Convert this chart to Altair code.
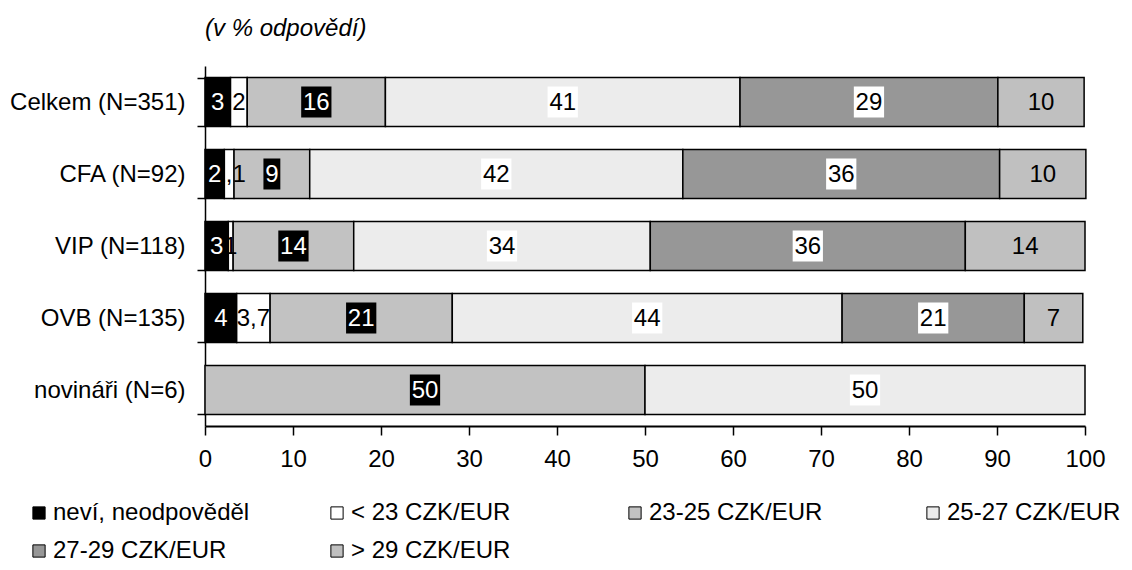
import altair as alt
import pandas as pd

groups = ["Celkem (N=351)", "CFA (N=92)", "VIP (N=118)", "OVB (N=135)", "novináři (N=6)"]
cats = ["neví, neodpověděl", "< 23 CZK/EUR", "23-25 CZK/EUR", "25-27 CZK/EUR", "27-29 CZK/EUR", "> 29 CZK/EUR"]
colors = ["#000000", "#ffffff", "#c2c2c2", "#ececec", "#979797", "#c0c0c0"]

# segment sizes, one list per answer category
v_nevi = [2.9, 2.2, 2.65, 3.6, 0]
v_lt23 = [1.9, 1.1, 0.55, 3.8, 0]
v_2325 = [15.7, 8.6, 13.7, 20.7, 50]
v_2527 = [40.3, 42.4, 33.7, 44.3, 50]
v_2729 = [29.3, 36.0, 35.8, 20.7, 0]
v_gt29 = [9.8, 9.8, 13.6, 6.65, 0]

# printed labels
l_nevi = ["3", "2", "3", "4", ""]
l_lt23 = ["2", "1,1", "1", "3,7", ""]
l_2325 = ["16", "9", "14", "21", "50"]
l_2527 = ["41", "42", "34", "44", "50"]
l_2729 = ["29", "36", "36", "21", ""]
l_gt29 = ["10", "10", "14", "7", ""]

vals = [v_nevi, v_lt23, v_2325, v_2527, v_2729, v_gt29]
labs = [l_nevi, l_lt23, l_2325, l_2527, l_2729, l_gt29]

rows = []
for gi, g in enumerate(groups):
    for ci, c in enumerate(cats):
        rows.append({"group": g, "cat": c, "ord": ci, "value": vals[ci][gi], "label": labs[ci][gi]})
df = pd.DataFrame(rows)

FONT = "Liberation Sans"
FS = 24

xscale = alt.Scale(domain=[0, 100], nice=False, zero=True)
xaxis = alt.Axis(title=None, values=list(range(0, 101, 10)), grid=False, tickSize=9, tickWidth=1.5,
                 tickColor="black", domainColor="black", domainWidth=2, labelPadding=12,
                 labelFontSize=FS, labelFont=FONT, labelColor="black", labelFlush=False)
yscale = alt.Scale(domain=groups, paddingInner=0.32, paddingOuter=0.16)
yaxis = alt.Axis(title=None, tickBand="extent", tickSize=8, tickWidth=1.5, tickColor="black",
                 domainColor="black", domainWidth=1.5, labelPadding=12, labelFontSize=FS,
                 labelFont=FONT, labelColor="black", labelLimit=400)

Y = alt.Y("group:N", scale=yscale, axis=yaxis, sort=groups)

base = (alt.Chart(df)
        .transform_filter("datum.value > 0")
        .transform_stack(stack="value", groupby=["group"], as_=["x0", "x1"],
                         sort=[alt.SortField("ord", order="ascending")])
        .transform_calculate(mid="(datum.x0 + datum.x1) / 2",
                             half="length(datum.label) * 0.76 + 0.2"))

bars = base.mark_bar(stroke="black", strokeWidth=1.5).encode(
    y=Y,
    x=alt.X("x0:Q", scale=xscale, axis=xaxis),
    x2="x1:Q",
    color=alt.Color("cat:N", scale=alt.Scale(domain=cats, range=colors), sort=cats,
                    legend=alt.Legend(title=None, orient="none", legendX=-178, legendY=435,
                                      direction="horizontal", columns=4, gridAlign="all",
                                      columnPadding=75, rowPadding=14,
                                      symbolType="square", symbolSize=150, symbolStrokeColor="black",
                                      symbolStrokeWidth=1, labelFontSize=FS, labelFont=FONT,
                                      labelColor="black", labelOffset=2, labelLimit=400)),
)

black_boxes = (base.transform_filter(alt.datum.cat == cats[2])
               .transform_calculate(bx0="datum.mid - datum.half", bx1="datum.mid + datum.half")
               .mark_bar(size=31, color="black")
               .encode(y=Y, x=alt.X("bx0:Q", scale=xscale, axis=xaxis), x2="bx1:Q"))

white_boxes = (base.transform_filter((alt.datum.cat == cats[3]) | (alt.datum.cat == cats[4]))
               .transform_calculate(bx0="datum.mid - datum.half", bx1="datum.mid + datum.half")
               .mark_bar(size=31, color="white")
               .encode(y=Y, x=alt.X("bx0:Q", scale=xscale, axis=xaxis), x2="bx1:Q"))

texts = (base.transform_filter(alt.datum.cat != cats[0])
         .mark_text(font=FONT, fontSize=FS, baseline="middle", align="center", dy=1)
         .encode(y=Y, x=alt.X("mid:Q", scale=xscale, axis=xaxis), text="label:N",
                 color=alt.condition(alt.datum.cat == cats[2], alt.value("white"), alt.value("black"))))

texts_nevi = (base.transform_filter(alt.datum.cat == cats[0])
              .mark_text(font=FONT, fontSize=FS, baseline="middle", align="center", dy=1, color="white")
              .encode(y=Y, x=alt.X("mid:Q", scale=xscale, axis=xaxis), text="label:N"))

chart = (alt.layer(bars, black_boxes, white_boxes, texts, texts_nevi)
         .properties(width=880, height=360,
                     title=alt.Title("(v % odpovědí)", anchor="start", frame="group", font=FONT,
                                     fontSize=FS, fontStyle="italic", fontWeight="normal",
                                     color="black", offset=13),
                     autosize=alt.AutoSizeParams(type="none"),
                     padding={"left": 197, "top": 58, "right": 39, "bottom": 136})
         .configure_view(stroke=None))

chart.save("out.html", embed_options={"renderer": "svg", "actions": False})
